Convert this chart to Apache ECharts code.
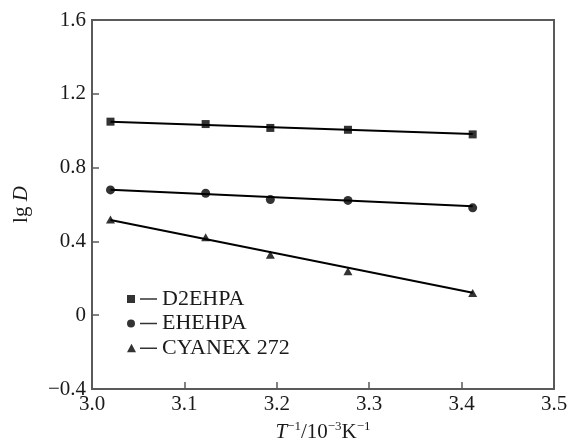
<!DOCTYPE html>
<html>
<head>
<meta charset="utf-8">
<script src="https://cdn.jsdelivr.net/npm/echarts@6/dist/echarts.min.js"></script>
<style>html,body{margin:0;padding:0;background:#fff;}#c{width:572px;height:441px;}</style>
</head>
<body>
<div id="c"></div>
<script>
// x values: T^-1 / 10^-3 K^-1
const xValues = [3.02, 3.123, 3.193, 3.277, 3.412];
// lg D values
const d2ehpa = [1.049, 1.036, 1.015, 1.005, 0.980];
const ehehpa = [0.679, 0.661, 0.627, 0.622, 0.582];
const cyanex = [0.519, 0.422, 0.328, 0.238, 0.121];
// fitted straight lines, endpoints
const fitX = [3.02, 3.412];
const d2ehpaFit = [1.049, 0.982];
const ehehpaFit = [0.680, 0.590];
const cyanexFit = [0.516, 0.122];
const seriesNames = ['D2EHPA', 'EHEHPA', 'CYANEX 272'];
const xTicks = [3.0, 3.1, 3.2, 3.3, 3.4, 3.5];
const yTicks = [-0.4, 0, 0.4, 0.8, 1.2, 1.6];

const pairs = (xs, ys) => xs.map((x, i) => [x, ys[i]]);
const FONT = 'Liberation Serif';
const AXIS_COLOR = '#5a5a5a';
const TEXT_COLOR = '#1a1a1a';

const icons = [
  'path://M0,1 L8,1 L8,9 L0,9 Z M13,4.3 L30,4.3 L30,5.7 L13,5.7 Z',
  'path://M0,5 A4,4 0 1,1 8,5 A4,4 0 1,1 0,5 Z M13,4.3 L30,4.3 L30,5.7 L13,5.7 Z',
  'path://M4.5,0.5 L9,9 L0,9 Z M13,4.3 L30,4.3 L30,5.7 L13,5.7 Z'
];
const symbols = ['rect', 'circle', 'triangle'];
const symbolSizes = [8, 9, [9, 8]];
const dataSets = [d2ehpa, ehehpa, cyanex];
const fits = [d2ehpaFit, ehehpaFit, cyanexFit];

const legendText = { fontFamily: FONT, fontSize: 22, color: TEXT_COLOR, lineHeight: 22 };

const series = [];
fits.forEach((f, i) => {
  series.push({
    type: 'line', name: 'fit' + i, data: pairs(fitX, f), symbol: 'none',
    lineStyle: { color: '#000', width: 2 }, silent: true, z: 2
  });
});
dataSets.forEach((d, i) => {
  series.push({
    type: 'scatter', name: seriesNames[i], data: pairs(xValues, d),
    symbol: symbols[i], symbolSize: symbolSizes[i],
    itemStyle: { color: '#000' }, z: 3
  });
});

const chart = echarts.init(document.getElementById('c'));
chart.setOption({
  animation: false,
  backgroundColor: '#fff',
  textStyle: { fontFamily: FONT },
  grid: { left: 92, right: 18, top: 20, bottom: 52, show: true, borderColor: AXIS_COLOR, borderWidth: 2,
    containLabel: false, outerBoundsMode: 'none' },
  legend: {
    orient: 'vertical', left: 127, top: 288, padding: 0,
    itemWidth: 30, itemHeight: 10, itemGap: 2.5,
    data: seriesNames.map((n, i) => ({ name: n, icon: icons[i] })),
    textStyle: legendText,
    selectedMode: false
  },
  xAxis: {
    type: 'value', min: xTicks[0], max: xTicks[xTicks.length - 1], interval: 0.1,
    axisLine: { onZero: false, lineStyle: { color: AXIS_COLOR, width: 2 } },
    axisTick: { inside: true, length: 7, lineStyle: { color: AXIS_COLOR, width: 1.5 } },
    splitLine: { show: false },
    axisLabel: { fontFamily: FONT, fontSize: 21, color: TEXT_COLOR, margin: 5,
      formatter: v => v.toFixed(1) },
    name: '{i|T}{s|−1}/10{s|−3}K{s|−1}',
    nameLocation: 'middle', nameGap: 29,
    nameTextStyle: {
      fontFamily: FONT, fontSize: 21, color: TEXT_COLOR,
      rich: {
        i: { fontFamily: FONT, fontSize: 21, fontStyle: 'italic', color: TEXT_COLOR },
        s: { fontFamily: FONT, fontSize: 13, color: TEXT_COLOR, verticalAlign: 'top', lineHeight: 26 }
      }
    }
  },
  yAxis: {
    type: 'value', min: yTicks[0], max: yTicks[yTicks.length - 1], interval: 0.4,
    axisLine: { onZero: false, lineStyle: { color: AXIS_COLOR, width: 2 } },
    axisTick: { inside: true, length: 7, lineStyle: { color: AXIS_COLOR, width: 1.5 } },
    splitLine: { show: false },
    axisLabel: { fontFamily: FONT, fontSize: 21, color: TEXT_COLOR, margin: 6,
      formatter: v => (Math.abs(v) < 1e-9 ? '0' : (v < 0 ? '−' + Math.abs(v).toFixed(1) : v.toFixed(1))) },
    name: 'lg {i|D}',
    nameLocation: 'middle', nameGap: 60, nameRotate: 90,
    nameTextStyle: {
      fontFamily: FONT, fontSize: 21, color: TEXT_COLOR,
      rich: { i: { fontFamily: FONT, fontSize: 21, fontStyle: 'italic', color: TEXT_COLOR } }
    }
  },
  series: series
});
</script>
</body>
</html>
